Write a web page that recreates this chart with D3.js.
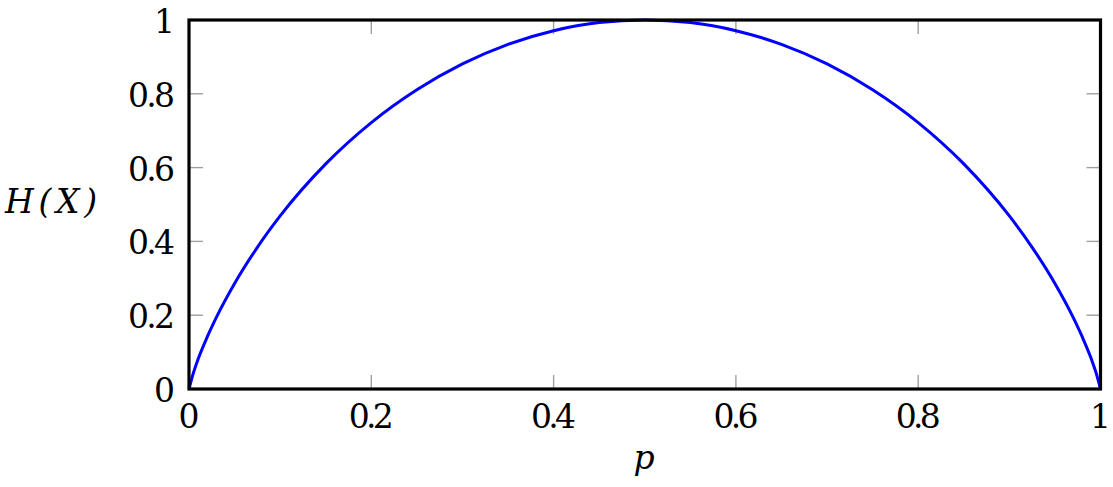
<!DOCTYPE html>
<html>
<head>
<meta charset="utf-8">
<script src="https://cdn.jsdelivr.net/npm/d3@7"></script>
<style>
  html, body { margin: 0; padding: 0; background: #fff; }
  svg { display: block; }
</style>
</head>
<body>
<svg id="chart" width="1113" height="487"></svg>
<script>
// Values
const pValues = [0, 0.005, 0.01, 0.02, 0.03, 0.05, 0.075, 0.1, 0.15, 0.2, 0.25, 0.3, 0.35, 0.4, 0.45, 0.5,
                 0.55, 0.6, 0.65, 0.7, 0.75, 0.8, 0.85, 0.9, 0.925, 0.95, 0.97, 0.98, 0.99, 0.995, 1];
const hValues = [0, 0.045, 0.081, 0.141, 0.194, 0.286, 0.384, 0.469, 0.610, 0.722, 0.811, 0.881, 0.934, 0.971, 0.993, 1,
                 0.993, 0.971, 0.934, 0.881, 0.811, 0.722, 0.610, 0.469, 0.384, 0.286, 0.194, 0.141, 0.081, 0.045, 0];
const xTicks = [0, 0.2, 0.4, 0.6, 0.8, 1];
const yTicks = [0, 0.2, 0.4, 0.6, 0.8, 1];
const xTickLabels = ["0", "0.2", "0.4", "0.6", "0.8", "1"];
const yTickLabels = ["0", "0.2", "0.4", "0.6", "0.8", "1"];

(function () {
const svg = d3.select("#chart");
const serif = "DejaVu Serif";
const mLeft = 189, mRight = 1100.5, mTop = 20, mBottom = 389;
const x = d3.scaleLinear().domain([0, 1]).range([mLeft, mRight]);
const y = d3.scaleLinear().domain([0, 1]).range([mBottom, mTop]);
const fs = 33;
const tickLen = 14;

// inner grey ticks on all four sides
const tickG = svg.append("g").attr("stroke", "#a0a0a0").attr("stroke-width", 1.4);
xTicks.forEach(t => {
  tickG.append("line").attr("x1", x(t)).attr("x2", x(t)).attr("y1", mBottom).attr("y2", mBottom - tickLen);
  tickG.append("line").attr("x1", x(t)).attr("x2", x(t)).attr("y1", mTop).attr("y2", mTop + tickLen);
});
yTicks.forEach(t => {
  tickG.append("line").attr("y1", y(t)).attr("y2", y(t)).attr("x1", mLeft).attr("x2", mLeft + tickLen);
  tickG.append("line").attr("y1", y(t)).attr("y2", y(t)).attr("x1", mRight).attr("x2", mRight - tickLen);
});

// curve
const line = d3.line().x((d, i) => x(pValues[i])).y(d => y(d)).curve(d3.curveMonotoneX);
svg.append("path").datum(hValues)
  .attr("d", line)
  .attr("fill", "none")
  .attr("stroke", "#0000ff")
  .attr("stroke-width", 3)
  .attr("stroke-linejoin", "round");

// frame
svg.append("rect")
  .attr("x", mLeft).attr("y", mTop)
  .attr("width", mRight - mLeft).attr("height", mBottom - mTop)
  .attr("fill", "none").attr("stroke", "#000").attr("stroke-width", 3.2);

// tick labels
xTicks.forEach((t, i) => {
  svg.append("text").attr("x", x(t)).attr("y", 428)
    .attr("font-family", serif).attr("fill", "#000")
    .attr("text-anchor", "middle").attr("font-size", fs)
    .attr("textLength", xTickLabels[i].length > 1 ? 45 : null)
    .text(xTickLabels[i]);
});
yTicks.forEach((t, i) => {
  svg.append("text").attr("x", 175).attr("y", y(t) + 13)
    .attr("font-family", serif).attr("fill", "#000")
    .attr("text-anchor", "end").attr("font-size", fs)
    .attr("textLength", yTickLabels[i].length > 1 ? 47 : null)
    .text(yTickLabels[i]);
});

// axis labels
svg.append("text").attr("x", 644).attr("y", 469)
  .attr("font-family", serif).attr("fill", "#000")
  .attr("text-anchor", "middle").attr("font-size", fs).attr("font-style", "italic").text("p");
svg.append("text").attr("x", 5).attr("y", 213)
  .attr("font-family", serif).attr("fill", "#000")
  .attr("font-size", fs).attr("font-style", "italic")
  .attr("textLength", 92).attr("lengthAdjust", "spacing").text("H(X)");
})();
</script>
</body>
</html>
